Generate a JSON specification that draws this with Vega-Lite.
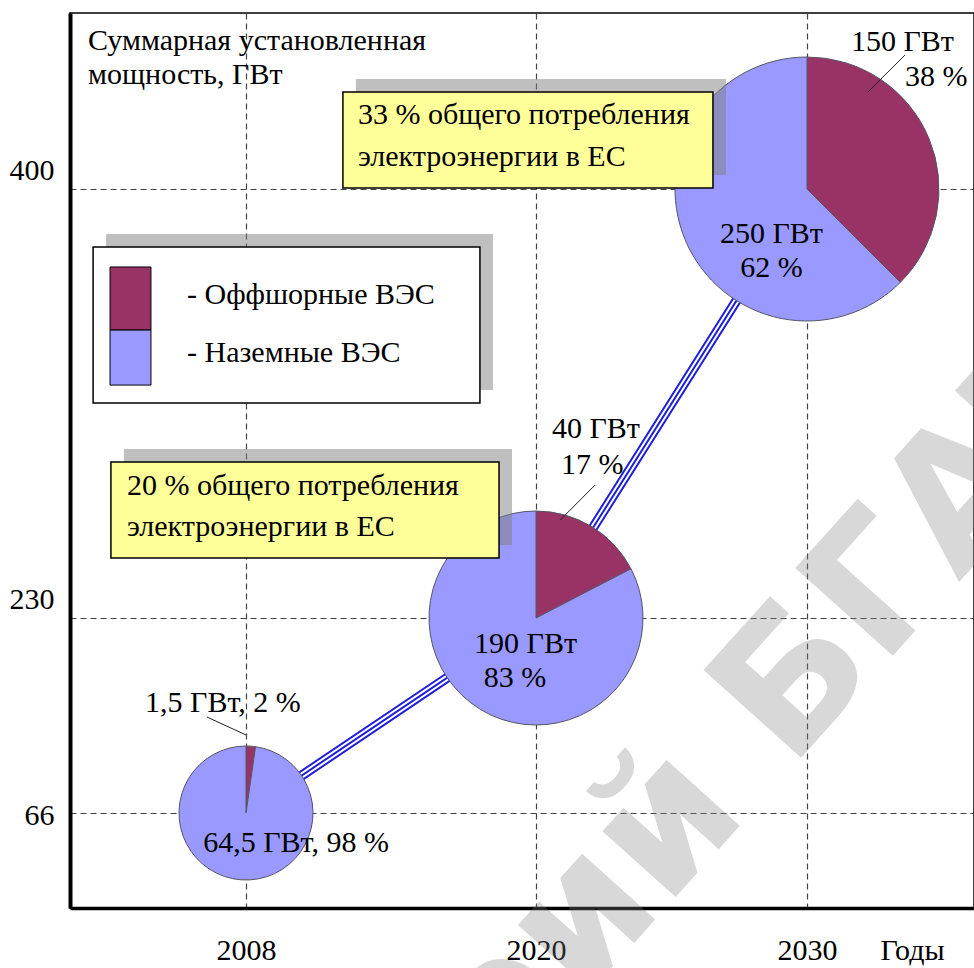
{
  "$schema": "https://vega.github.io/schema/vega-lite/v6.json",
  "width": 904,
  "height": 895,
  "autosize": {"type": "none"},
  "padding": {"left": 70, "top": 13, "right": 0, "bottom": 60},
  "background": "white",
  "config": {
    "font": "Liberation Serif",
    "view": {"stroke": "#000", "strokeWidth": 1.5},
    "axis": {
      "labelFont": "Liberation Serif",
      "labelColor": "#000",
      "domainColor": "#000",
      "gridColor": "#444",
      "gridDash": [6, 4],
      "gridWidth": 1.2,
      "ticks": false,
      "tickSize": 0,
      "titleFont": "Liberation Serif",
      "titleFontWeight": "normal",
      "titleColor": "#000"
    }
  },
  "datasets": {
    "wind": [
      {"year": 2008, "type": "Оффшорные ВЭС", "gw": 1.5},
      {"year": 2008, "type": "Наземные ВЭС", "gw": 64.5},
      {"year": 2020, "type": "Оффшорные ВЭС", "gw": 40},
      {"year": 2020, "type": "Наземные ВЭС", "gw": 190},
      {"year": 2030, "type": "Оффшорные ВЭС", "gw": 150},
      {"year": 2030, "type": "Наземные ВЭС", "gw": 250}
    ],
    "boxes": [
      {"kind": "note", "x": 2012.01, "x2": 2026.53, "y": 444.1, "y2": 400.45},
      {"kind": "note", "x": 2001.86, "x2": 2018.47, "y": 291.8, "y2": 253.8},
      {"kind": "legend", "x": 2001.05, "x2": 2017.68, "y": 377.0, "y2": 315.2}
    ],
    "swatches": [
      {"type": "Оффшорные ВЭС", "x": 2001.82, "x2": 2003.68, "y": 369.1, "y2": 344.1},
      {"type": "Наземные ВЭС", "x": 2001.82, "x2": 2003.68, "y": 344.1, "y2": 322.3}
    ],
    "lefttext": [
      {"x": 2000.82, "y": 467.3, "t": "Суммарная установленная"},
      {"x": 2000.82, "y": 451.8, "t": "мощность, ГВт"},
      {"x": 2012.63, "y": 433.6, "t": "33 % общего потребления"},
      {"x": 2012.63, "y": 414.5, "t": "электроэнергии в ЕС"},
      {"x": 2002.59, "y": 282.3, "t": "20 % общего потребления"},
      {"x": 2002.59, "y": 266.1, "t": "электроэнергии в ЕС"},
      {"x": 2005.32, "y": 358.0, "t": "- Оффшорные ВЭС"},
      {"x": 2005.32, "y": 335.0, "t": "- Наземные ВЭС"}
    ],
    "centertext": [
      {"x": 2033.43, "y": 466.8, "t": "150 ГВт"},
      {"x": 2034.64, "y": 450.9, "t": "38 %"},
      {"x": 2028.69, "y": 382.2, "t": "250 ГВт"},
      {"x": 2028.69, "y": 368.7, "t": "62 %"},
      {"x": 2022.21, "y": 304.9, "t": "40 ГВт"},
      {"x": 2022.08, "y": 290.6, "t": "17 %"},
      {"x": 2019.57, "y": 208.1, "t": "190 ГВт"},
      {"x": 2019.13, "y": 179.5, "t": "83 %"},
      {"x": 2006.95, "y": 158.5, "t": "1,5 ГВт, 2 %"},
      {"x": 2010.07, "y": 45.2, "t": "64,5 ГВт, 98 %"}
    ],
    "leaders": [
      {"x": 2033.52, "y": 460.9, "x2": 2032.19, "y2": 444.1},
      {"x": 2022.18, "y": 282.7, "x2": 2020.89, "y2": 268.8},
      {"x": 2006.23, "y": 146.7, "x2": 2008.0, "y2": 131.6}
    ],
    "watermark": [
      {"x": 2029.37, "y": 102.2, "a": "Репозиторий", "b": "БГАТУ"}
    ]
  },
  "layer": [
    {
      "data": {"name": "wind"},
      "mark": {"type": "line", "color": "#1f1fd8", "strokeWidth": 10},
      "encoding": {
        "x": {
          "field": "year",
          "type": "quantitative",
          "scale": {"domain": [2000, 2008, 2020, 2030, 2036], "range": [0, 176, 466, 737, 904], "nice": false, "zero": false},
          "axis": {
            "values": [2008, 2020, 2030],
            "format": "d",
            "title": "Годы",
            "titleX": 842,
            "titleY": 42,
            "titleAlign": "center",
            "titleBaseline": "middle",
            "titleFontSize": 30,
            "labelFontSize": 30,
            "labelPadding": 42,
            "labelBaseline": "middle",
            "domainWidth": 3.5,
            "grid": true
          }
        },
        "y": {
          "aggregate": "sum",
          "field": "gw",
          "type": "quantitative",
          "scale": {"domain": [0, 66, 230, 400, 480], "range": [895, 800, 605, 176, 0], "nice": false, "zero": false},
          "axis": {
            "values": [66, 230, 400],
            "title": null,
            "labelFontSize": 30,
            "labelPadding": 16,
            "labelBaseline": "middle",
            "labelOffset": {"condition": {"test": "datum.value === 66", "value": 2}, "value": -19},
            "domainWidth": 4,
            "grid": true
          }
        }
      }
    },
    {
      "data": {"name": "wind"},
      "mark": {"type": "line", "color": "#ffffff", "strokeWidth": 6},
      "encoding": {
        "x": {"field": "year", "type": "quantitative"},
        "y": {"aggregate": "sum", "field": "gw", "type": "quantitative"}
      }
    },
    {
      "data": {"name": "wind"},
      "mark": {"type": "line", "color": "#1f1fd8", "strokeWidth": 2},
      "encoding": {
        "x": {"field": "year", "type": "quantitative"},
        "y": {"aggregate": "sum", "field": "gw", "type": "quantitative"}
      }
    },
    {
      "data": {"name": "wind"},
      "transform": [
        {"joinaggregate": [{"op": "sum", "field": "gw", "as": "total"}], "groupby": ["year"]},
        {"stack": "gw", "groupby": ["year"], "sort": [{"field": "type", "order": "descending"}], "as": ["s0", "s1"], "offset": "normalize"}
      ],
      "mark": {"type": "arc", "stroke": "#555566", "strokeWidth": 1},
      "encoding": {
        "x": {"field": "year", "type": "quantitative"},
        "y": {"field": "total", "type": "quantitative"},
        "theta": {"field": "s0", "type": "quantitative", "stack": null, "scale": {"domain": [0, 1], "range": [0, 6.283185307]}},
        "theta2": {"field": "s1"},
        "radius": {"field": "total", "type": "quantitative", "scale": {"type": "linear", "domain": [66, 230, 400], "range": [67, 107, 132], "zero": false, "nice": false}},
        "radius2": {"value": 0},
        "color": {
          "field": "type",
          "type": "nominal",
          "scale": {"domain": ["Оффшорные ВЭС", "Наземные ВЭС"], "range": ["#993366", "#9999ff"]},
          "legend": null
        }
      }
    },
    {
      "data": {"name": "boxes"},
      "mark": {"type": "rect", "fill": "#808080", "opacity": 0.5, "xOffset": 13, "x2Offset": 13, "yOffset": -13, "y2Offset": -13},
      "encoding": {
        "x": {"field": "x", "type": "quantitative"},
        "x2": {"field": "x2"},
        "y": {"field": "y", "type": "quantitative"},
        "y2": {"field": "y2"}
      }
    },
    {
      "data": {"name": "boxes"},
      "mark": {"type": "rect", "stroke": "#000", "strokeWidth": 1.5},
      "encoding": {
        "x": {"field": "x", "type": "quantitative"},
        "x2": {"field": "x2"},
        "y": {"field": "y", "type": "quantitative"},
        "y2": {"field": "y2"},
        "fill": {
          "field": "kind",
          "type": "nominal",
          "scale": {"domain": ["note", "legend"], "range": ["#ffff99", "#ffffff"]},
          "legend": null
        }
      }
    },
    {
      "data": {"name": "swatches"},
      "mark": {"type": "rect", "stroke": "#000", "strokeWidth": 1},
      "encoding": {
        "x": {"field": "x", "type": "quantitative"},
        "x2": {"field": "x2"},
        "y": {"field": "y", "type": "quantitative"},
        "y2": {"field": "y2"},
        "color": {"field": "type", "type": "nominal", "legend": null}
      }
    },
    {
      "data": {"name": "leaders"},
      "mark": {"type": "rule", "color": "#222", "strokeWidth": 1},
      "encoding": {
        "x": {"field": "x", "type": "quantitative"},
        "x2": {"field": "x2"},
        "y": {"field": "y", "type": "quantitative"},
        "y2": {"field": "y2"}
      }
    },
    {
      "data": {"name": "lefttext"},
      "mark": {"type": "text", "align": "left", "baseline": "middle", "fontSize": 30, "font": "Liberation Serif", "color": "#000"},
      "encoding": {
        "x": {"field": "x", "type": "quantitative"},
        "y": {"field": "y", "type": "quantitative"},
        "text": {"field": "t"}
      }
    },
    {
      "data": {"name": "centertext"},
      "mark": {"type": "text", "align": "center", "baseline": "middle", "fontSize": 30, "font": "Liberation Serif", "color": "#000"},
      "encoding": {
        "x": {"field": "x", "type": "quantitative"},
        "y": {"field": "y", "type": "quantitative"},
        "text": {"field": "t"}
      }
    },
    {
      "data": {"name": "watermark"},
      "mark": {"type": "text", "align": "left", "baseline": "alphabetic", "fontSize": 180, "font": "DejaVu Sans", "fontWeight": "bold", "angle": -48, "color": "#808080", "opacity": 0.3},
      "encoding": {
        "x": {"field": "x", "type": "quantitative"},
        "y": {"field": "y", "type": "quantitative"},
        "text": {"field": "b"}
      }
    },
    {
      "data": {"name": "watermark"},
      "mark": {"type": "text", "align": "right", "baseline": "alphabetic", "fontSize": 180, "font": "DejaVu Sans", "fontWeight": "bold", "angle": -48, "dx": -60, "color": "#808080", "opacity": 0.3},
      "encoding": {
        "x": {"field": "x", "type": "quantitative"},
        "y": {"field": "y", "type": "quantitative"},
        "text": {"field": "a"}
      }
    }
  ]
}
